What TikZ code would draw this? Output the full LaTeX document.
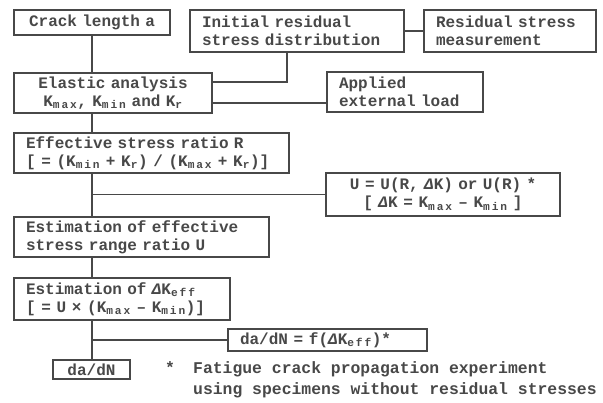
\documentclass[tikz,border=0pt]{standalone}
\usepackage{fontspec}
\setmainfont{Liberation Mono}
\usetikzlibrary{positioning}
\definecolor{InkGray}{RGB}{72,72,72}
\newcommand\Ksb[1]{K\textsubscript{#1}}
\newcommand\fw[1]{\makebox[21pt]{#1}}

\begin{document}
\begin{tikzpicture}[x=1pt,y=-1pt,
    box/.style={draw=InkGray,line width=1.2pt,text=InkGray,inner xsep=12pt,inner ysep=1pt,
                font=\fontsize{16}{18}\selectfont\bfseries,align=left},
    cbox/.style={box,align=center,inner xsep=6pt},
    link/.style={draw=InkGray,line width=1.1pt}
  ]
  \useasboundingbox (0,0) rectangle (603,403);
  % top row
  \node[cbox,text width=144pt,minimum height=25pt] (crack) at (92,22.5) {Crack length a};
  \node[box,text width=190pt,minimum height=42pt] (init) at (297,31) {Initial residual\\stress distribution};
  \node[box,text width=148pt,minimum height=42pt] (meas) at (510,31) {Residual stress\\measurement};
  % analysis
  \node[cbox,text width=186pt,minimum height=40pt] (elastic) at (113,93)
    {Elastic analysis\\\Ksb{m\,a\,x}, \Ksb{m\,i\,n} and \Ksb{r}};
  \node[box,text width=132pt,minimum height=40pt] (load) at (405,92) {Applied\\external load};
  \node[box,text width=251pt,minimum height=40pt] (ratio) at (151.5,153)
    {Effective stress ratio R\\{[}\fw{=}(\Ksb{m\,i\,n}\fw{+}\Ksb{r})\fw{/}(\Ksb{m\,a\,x}\fw{+}\Ksb{r})]};
  \node[cbox,text width=222pt,minimum height=43pt] (ufun) at (443,194.5)
    {U\fw{=}U(R, \textit{Δ}K) or U(R) *\\{[} \textit{Δ}K\fw{=}\Ksb{m\,a\,x}\fw{–}\Ksb{m\,i\,n} ]};
  \node[box,text width=231pt,minimum height=40pt] (urange) at (141.5,237)
    {Estimation of effective\\stress range ratio  U};
  \node[box,text width=192pt,minimum height=42pt] (dkeff) at (122,299)
    {Estimation of \textit{Δ}\Ksb{e\,f\,f}\\{[}\fw{=}U\fw{×}(\Ksb{m\,a\,x}\fw{–}\Ksb{m\,i\,n})]};
  \node[box,text width=175pt,minimum height=22pt] (law) at (327.5,340)
    {da/dN\fw{=}f(\textit{Δ}\Ksb{e\,f\,f})*};
  \node[cbox,text width=65pt,minimum height=19pt] (dadn) at (91.5,369.5) {da/dN};
  \node[anchor=base west,align=left,text=InkGray,inner sep=0pt,
        font=\fontsize{16.4}{21}\selectfont\bfseries] (note) at (165,395)
    {\makebox[28pt][l]{*}Fatigue crack propagation experiment\\\hspace*{28pt}using specimens without residual stresses};
  % connectors
  \draw[link] (crack) -- (crack |- elastic.north);
  \draw[link] (init) -- (meas);
  \draw[link] ([xshift=-10pt]init.south) |- ([yshift=11pt]elastic.east);
  \draw[link] ([yshift=-10pt]elastic.east) -- ([yshift=-10pt]elastic.east -| load.west);
  \draw[link] (crack |- elastic.south) -- (crack |- ratio.north);
  \draw[link] (crack |- ratio.south) -- (crack |- urange.north);
  \draw[link] (crack |- ufun.west) -- (ufun.west);
  \draw[link] (crack |- urange.south) -- (crack |- dkeff.north);
  \draw[link] (crack |- dkeff.south) -- (crack |- dadn.north);
  \draw[link] (crack |- law.west) -- (law.west);
\end{tikzpicture}
\end{document}
